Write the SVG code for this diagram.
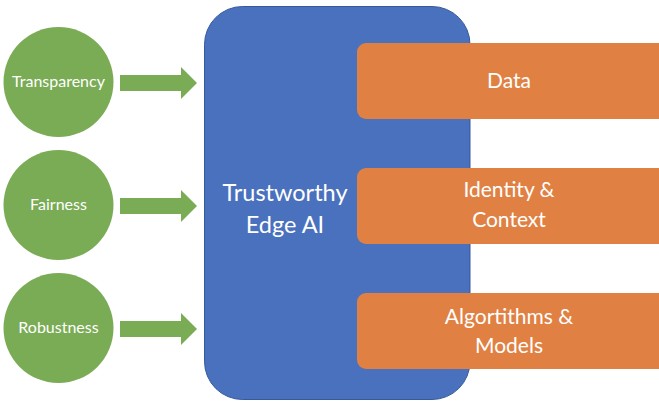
<svg xmlns="http://www.w3.org/2000/svg" width="659" height="405" viewBox="0 0 659 405">
<style>
.c{fill:#7AAB55}
.ar{fill:#7AAB55}
.b{fill:#4A71BD;stroke:#36599A;stroke-width:1}
.o{fill:#E08143}
text{font-family:Lato,"Liberation Sans",sans-serif;fill:#fff;text-anchor:middle}
.s{font-size:16px}
.m{font-size:21px}
.l{font-size:23.5px}
</style>
<rect width="659" height="405" fill="#fff"/>
<g id="core">
<rect class="b" x="204.5" y="6.5" width="265.5" height="393" rx="38"/>
<text class="l" x="285" y="201">Trustworthy</text>
<text class="l" x="285" y="233">Edge AI</text>
</g>
<g id="data">
<rect class="o" x="357" y="43" width="310" height="76" rx="9"/>
<text class="m" x="509" y="88">Data</text>
</g>
<g id="identity">
<rect class="o" x="357" y="168" width="310" height="76" rx="9"/>
<text class="m" x="509" y="197">Identity &amp;</text>
<text class="m" x="509" y="227">Context</text>
</g>
<g id="algorithms">
<rect class="o" x="357" y="293" width="310" height="76" rx="9"/>
<text class="m" x="509" y="324">Algortithms &amp;</text>
<text class="m" x="509" y="353">Models</text>
</g>
<g id="transparency">
<circle class="c" cx="58.5" cy="82" r="55"/>
<text class="s" x="58.5" y="87">Transparency</text>
</g>
<g id="fairness">
<circle class="c" cx="58.5" cy="205" r="55"/>
<text class="s" x="58.5" y="210">Fairness</text>
</g>
<g id="robustness">
<circle class="c" cx="58.5" cy="328" r="55"/>
<text class="s" x="58.5" y="333">Robustness</text>
</g>
<g id="connectors">
<path class="ar" d="M120 75H181V67L197 83L181 99V91H120Z"/>
<path class="ar" d="M120 198H181V190L197 206L181 222V214H120Z"/>
<path class="ar" d="M120 321H181V313L197 329L181 345V337H120Z"/>
</g>
</svg>
